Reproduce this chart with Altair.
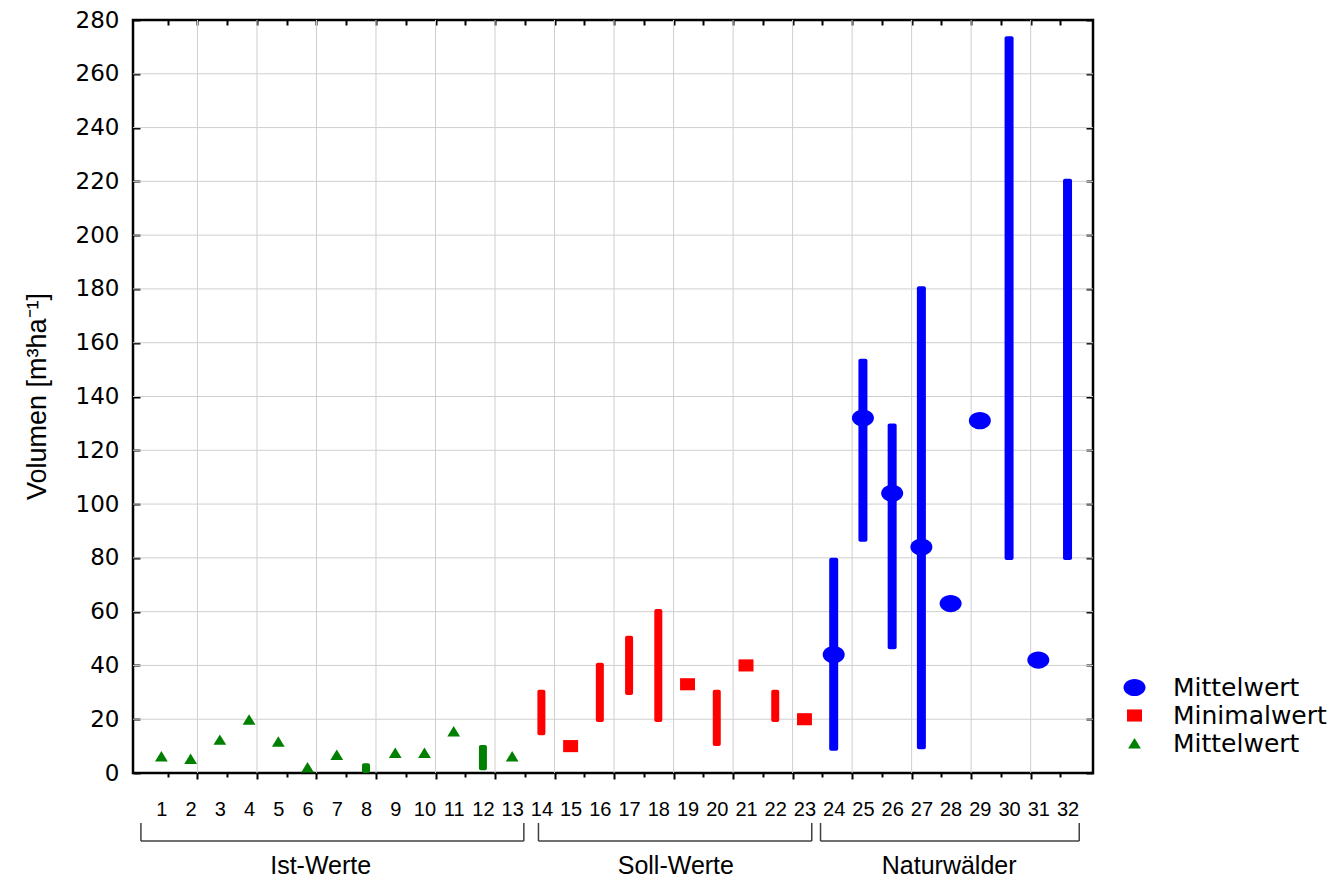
import altair as alt
import pandas as pd

# ---------------- data ----------------
categories = list(range(1, 33))

# Ist-Werte (green)
ist_mean_cat = [1, 2, 3, 4, 5, 6, 7, 9, 10, 11, 13]
ist_mean_val = [6.1, 5.2, 12.3, 19.8, 11.6, 2.0, 6.7, 7.4, 7.4, 15.4, 6.1]
ist_range_cat = [8, 12]
ist_range_lo = [0, 1]
ist_range_hi = [3.6, 10.4]

# Soll-Werte (red)
soll_range_cat = [14, 16, 17, 18, 20, 22]
soll_range_lo = [14, 19, 29, 19, 10, 19]
soll_range_hi = [31, 41, 51, 61, 31, 31]
soll_min_cat = [15, 19, 21, 23]
soll_min_val = [10, 33, 40, 20]

# Naturwälder (blue)
natur_range_cat = [24, 25, 26, 27, 30, 32]
natur_range_lo = [8.3, 86, 46, 8.8, 79.2, 79.2]
natur_range_hi = [80, 154, 130, 181, 274, 221]
natur_mean_cat = [24, 25, 26, 27, 28, 29, 31]
natur_mean_val = [44, 132, 104, 84, 63, 131, 42]

# groups below the axis
group_names = ["Ist-Werte", "Soll-Werte", "Naturwälder"]
group_start = [0.3, 13.9, 23.55]
group_end = [13.4, 23.25, 32.4]
group_label_x = [6.45, 18.6, 27.95]

# legend
series_ids = ["mw_natur", "min_soll", "mw_ist"]
series_labels = ["Mittelwert", "Minimalwert", "Mittelwert"]

y_ticks = list(range(0, 281, 20))

# axis ticks of the original x axis (not aligned with the categories)
x_tick_start = 1.216
x_tick_step = 1.018
x_ticks = [round(x_tick_start + x_tick_step * k, 3) for k in range(31)]
x_major = x_ticks[1::2]
x_minor = x_ticks[0::2]

# ---------------- styles ----------------
BLUE = "#0000ff"
RED = "#ff0000"
GREEN = "#008000"
GRID = "#cfcfcf"
FONT = "Liberation Sans"

ELLIPSE = "M-1,0A1,0.78,0,1,1,1,0A1,0.78,0,1,1,-1,0Z"
RECT = "M-0.68,-0.55L0.68,-0.55L0.68,0.55L-0.68,0.55Z"
TRI = "M0,-0.5L0.58,0.45L-0.58,0.45Z"

X = alt.Scale(domain=[0.2, 32.7], nice=False, zero=False)
Y = alt.Scale(domain=[0, 280], nice=False, zero=False)

# ---------------- tables ----------------
pts = pd.concat([
    pd.DataFrame({"cat": natur_mean_cat, "val": natur_mean_val, "series": series_ids[0]}),
    pd.DataFrame({"cat": soll_min_cat, "val": soll_min_val, "series": series_ids[1]}),
    pd.DataFrame({"cat": ist_mean_cat, "val": ist_mean_val, "series": series_ids[2]}),
], ignore_index=True)

ist_rng = pd.DataFrame({"cat": ist_range_cat, "lo": ist_range_lo, "hi": ist_range_hi})
soll_rng = pd.DataFrame({"cat": soll_range_cat, "lo": soll_range_lo, "hi": soll_range_hi})
natur_rng = pd.DataFrame({"cat": natur_range_cat, "lo": natur_range_lo, "hi": natur_range_hi})

groups = pd.DataFrame({"name": group_names, "start": group_start, "end": group_end,
                       "lx": group_label_x})
bracket_ends = pd.DataFrame({"bx": group_start + group_end})

# ---------------- layers ----------------
vgrid = alt.Chart(pd.DataFrame({"gx": x_major})).mark_rule(color=GRID, strokeWidth=1).encode(
    x=alt.X("gx:Q", scale=X, axis=alt.Axis(
        orient="bottom", values=x_major, labels=False, domain=False, grid=False,
        ticks=True, tickSize=6, tickWidth=2, tickColor="black", title=None))
)

hgrid = alt.Chart(pd.DataFrame({"gy": y_ticks[1:-1]})).mark_rule(color=GRID, strokeWidth=1).encode(
    y=alt.Y("gy:Q", scale=Y, axis=alt.Axis(
        orient="left", values=y_ticks, offset=-7, tickSize=7, tickWidth=2, tickColor="black",
        domain=False, grid=False, labelFont="DejaVu Sans", labelFontSize=23,
        labelPadding=14, labelColor="black",
        title="Volumen [m³ha⁻¹]", titleFont=FONT, titleFontSize=27,
        titleFontWeight="normal", titleColor="black",
        titleX=-103, titleY=376, titleAngle=270, titleAlign="center",
        titleBaseline="middle"))
)

green_bars = alt.Chart(ist_rng).mark_bar(size=8, cornerRadius=2, color=GREEN).encode(
    x=alt.X("cat:Q", scale=X, axis=alt.Axis(
        orient="bottom", values=categories, ticks=False, tickSize=0, domain=False,
        grid=False, labelPadding=26, labelFont=FONT, labelFontSize=20,
        labelColor="black", labelFlush=False, labelOverlap=False, title=None)),
    y=alt.Y("lo:Q", scale=Y, axis=None),
    y2="hi:Q",
)

red_bars = alt.Chart(soll_rng).mark_bar(size=8, cornerRadius=2, color=RED).encode(
    x=alt.X("cat:Q", scale=X, axis=None),
    y=alt.Y("lo:Q", scale=Y, axis=None),
    y2="hi:Q",
)

blue_bars = alt.Chart(natur_rng).mark_bar(size=9, cornerRadius=2, color=BLUE).encode(
    x=alt.X("cat:Q", scale=X, axis=None),
    y=alt.Y("lo:Q", scale=Y, axis=None),
    y2="hi:Q",
)

legend = alt.Legend(
    title=None, orient="none", legendX=989, legendY=655, padding=0,
    labelExpr="datum.value == 'min_soll' ? 'Minimalwert' : 'Mittelwert'",
    labelFont="DejaVu Sans", labelFontSize=25, labelColor="black",
    labelOffset=26, rowPadding=2, symbolSize=484, symbolStrokeWidth=0,
)

points = alt.Chart(pts).mark_point(filled=True, opacity=1, size=484, strokeWidth=0).encode(
    x=alt.X("cat:Q", scale=X, axis=alt.Axis(
        orient="top", values=x_ticks, offset=-5, tickSize=5, tickWidth=2,
        tickColor="black", labels=False, domain=False, grid=False, title=None)),
    y=alt.Y("val:Q", scale=Y, axis=alt.Axis(
        orient="right", values=y_ticks, offset=-7, tickSize=7, tickWidth=2,
        tickColor="black", labels=False, domain=False, grid=False, title=None)),
    color=alt.Color("series:N", scale=alt.Scale(domain=series_ids, range=[BLUE, RED, GREEN]),
                    legend=legend),
    shape=alt.Shape("series:N", scale=alt.Scale(domain=series_ids, range=[ELLIPSE, RECT, TRI]),
                    legend=legend),
)

bracket_v = alt.Chart(bracket_ends).mark_rule(color="#404040", strokeWidth=1.5).encode(
    x=alt.X("bx:Q", scale=X, axis=alt.Axis(
        orient="bottom", values=x_minor, labels=False, domain=False, grid=False,
        ticks=True, tickSize=4, tickWidth=2, tickColor="black", title=None)),
    y=alt.value(803),
    y2=alt.value(821),
)

bracket_h = alt.Chart(groups).mark_rule(color="#404040", strokeWidth=1.5).encode(
    x=alt.X("start:Q", scale=X, axis=None),
    x2="end:Q",
    y=alt.value(821),
)

group_text = alt.Chart(groups).mark_text(
    font=FONT, fontSize=25, color="black", align="center", baseline="middle"
).encode(
    x=alt.X("lx:Q", scale=X, axis=None),
    y=alt.value(846),
    text="name:N",
)

chart = alt.layer(
    vgrid, hgrid, green_bars, red_bars, blue_bars, points, bracket_v, bracket_h, group_text
).resolve_axis(
    x="independent", y="independent"
).properties(
    width=960,
    height=753,
    autosize=alt.AutoSizeParams(type="none"),
    padding={"left": 125, "top": 12, "right": 239, "bottom": 108},
    background="white",
).configure_view(
    stroke="black", strokeWidth=2.5
)

chart.save("out.html", embed_options={"renderer": "svg", "actions": False})
